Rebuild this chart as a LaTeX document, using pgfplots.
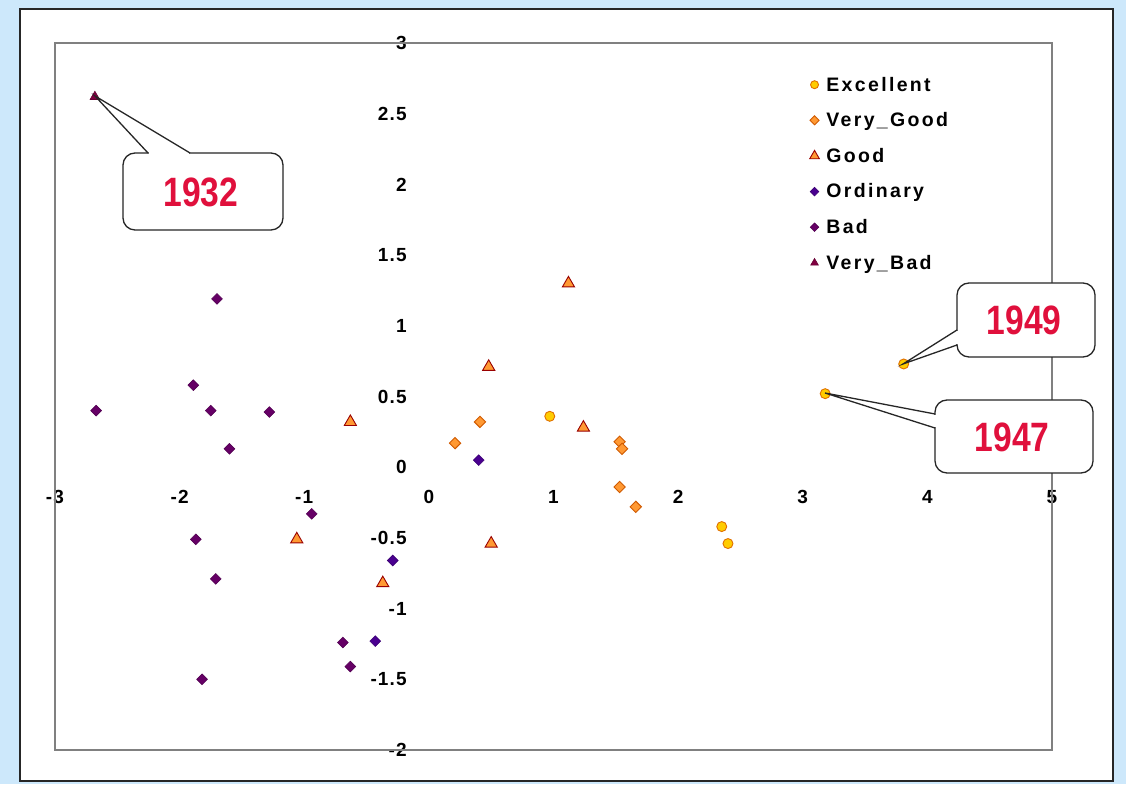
\documentclass[border=0pt]{standalone}
\usepackage{pgfplots}
\pgfplotsset{compat=1.18}
\usepackage{fontspec}
\setmainfont{Liberation Sans}
\newfontfamily\tickfam{Liberation Sans}[LetterSpace=6]
\newfontfamily\legfam{Liberation Sans}[LetterSpace=12]
\newfontfamily\callfam{Liberation Sans}[FakeStretch=0.82]
\newcommand\tickfont{\tickfam\bfseries\fontsize{19}{21}\selectfont}
\newcommand\legfont{\legfam\bfseries\fontsize{19.5}{21}\selectfont}
\newcommand\callfont{\callfam\bfseries\fontsize{41}{43}\selectfont}
\definecolor{bgblue}{HTML}{CDE8FB}
\definecolor{excfill}{HTML}{FFCC00}
\definecolor{excdraw}{HTML}{E07000}
\definecolor{vgfill}{HTML}{FF9933}
\definecolor{vgdraw}{HTML}{D05A00}
\definecolor{gfill}{HTML}{FF9933}
\definecolor{gdraw}{HTML}{990000}
\definecolor{ordfill}{HTML}{4A0090}
\definecolor{badfill}{HTML}{660066}
\definecolor{vbfill}{HTML}{800040}
\definecolor{callred}{HTML}{E0103C}
\begin{document}
\begin{tikzpicture}
\useasboundingbox (0pt,0pt) rectangle (1126pt,784pt);
\fill[bgblue] (0pt,0pt) rectangle (1126pt,784pt);
\filldraw[fill=white, draw=black!85, line width=1.6pt] (20pt,3pt) rectangle (1113pt,775pt);
\begin{axis}[
  at={(55pt,34pt)}, anchor=south west,
  scale only axis, width=997pt, height=707pt,
  xmin=-3, xmax=5, ymin=-2, ymax=3,
  axis lines=middle, axis line style={draw=none},
  xtick={-3,-2,-1,0,1,2,3,4,5},
  ytick={-2,-1.5,-1,-0.5,0,0.5,1,1.5,2,2.5,3},
  major tick length=0pt,
  hide obscured x ticks=false, hide obscured y ticks=false,
  /pgf/number format/assume math mode=true,
  tick label style={font=\tickfont},
  xticklabel style={anchor=center, yshift=-30pt},
  yticklabel style={anchor=east, inner sep=0pt, xshift=-22pt},
  clip=false,
  legend style={draw=none, fill=none, at={(axis cs:3.03,2.79)}, anchor=north west,
    font=\legfont, row sep=16pt, /tikz/every odd column/.append style={column sep=5pt}},
  legend cell align=left,
  legend image code/.code={\draw[#1, /tikz/every mark/.append style={scale=0.8}] plot coordinates {(0pt,0pt)};},
]
\draw[black!50, line width=1.6pt] (rel axis cs:0,0) rectangle (rel axis cs:1,1);
\addplot[only marks, mark=*, mark size=5pt, mark options={fill=excfill, draw=excdraw, line width=0.9pt}]
  coordinates {(0.97,0.36) (2.35,-0.42) (2.40,-0.54) (3.81,0.73) (3.18,0.52)};
\addlegendentry{Excellent}
\addplot[only marks, mark=square*, mark size=4pt, mark options={rotate=45, fill=vgfill, draw=vgdraw, line width=0.9pt}]
  coordinates {(0.21,0.17) (0.41,0.32) (1.53,0.18) (1.55,0.13) (1.53,-0.14) (1.66,-0.28)};
\addlegendentry{Very\_Good}
\addplot[only marks, mark=triangle*, mark size=7pt, mark options={fill=gfill, draw=gdraw, line width=0.9pt}]
  coordinates {(-0.63,0.32) (-1.06,-0.51) (-0.37,-0.82) (0.48,0.71) (1.12,1.30) (1.24,0.28) (0.50,-0.54)};
\addlegendentry{Good}
\addplot[only marks, mark=square*, mark size=3.8pt, mark options={rotate=45, fill=ordfill, draw=ordfill!80!black, line width=0.6pt}]
  coordinates {(-0.29,-0.66) (-0.43,-1.23) (0.40,0.05)};
\addlegendentry{Ordinary}
\addplot[only marks, mark=square*, mark size=3.8pt, mark options={rotate=45, fill=badfill, draw=badfill!80!black, line width=0.6pt}]
  coordinates {(-2.67,0.40) (-1.89,0.58) (-1.75,0.40) (-1.28,0.39) (-1.60,0.13) (-1.70,1.19)
               (-0.94,-0.33) (-1.87,-0.51) (-1.71,-0.79) (-0.69,-1.24) (-0.63,-1.41) (-1.82,-1.50)};
\addlegendentry{Bad}
\addplot[only marks, mark=triangle*, mark size=5.5pt, mark options={fill=vbfill, draw=vbfill!80!black, line width=0.6pt}]
  coordinates {(-2.68,2.62)};
\addlegendentry{Very\_Bad}
\end{axis}
% callout 1932
\draw[black!85, line width=1.3pt, rounded corners=12pt, fill=white] (123pt,554pt) rectangle (283pt,631pt);
\fill[white] (149pt,628pt) rectangle (189pt,634pt);
\draw[black!85, line width=1.3pt] (148pt,631pt) -- (95pt,688pt) -- (190pt,631pt);
\node[text=callred, font=\callfont, inner sep=0pt] at (201pt,592pt) {1932};
% callout 1949
\draw[black!85, line width=1.3pt, rounded corners=12pt, fill=white] (957pt,427pt) rectangle (1095pt,501pt);
\fill[white] (954pt,440pt) rectangle (960pt,453pt);
\draw[black!85, line width=1.3pt] (957pt,454pt) -- (903pt,420pt) -- (957pt,439pt);
\node[text=callred, font=\callfont, inner sep=0pt] at (1024pt,464pt) {1949};
% callout 1947
\draw[black!85, line width=1.3pt, rounded corners=12pt, fill=white] (935pt,311pt) rectangle (1093pt,384pt);
\fill[white] (932pt,357pt) rectangle (938pt,369pt);
\draw[black!85, line width=1.3pt] (935pt,370pt) -- (825pt,391pt) -- (935pt,356pt);
\node[text=callred, font=\callfont, inner sep=0pt] at (1012pt,347pt) {1947};
\end{tikzpicture}
\end{document}
